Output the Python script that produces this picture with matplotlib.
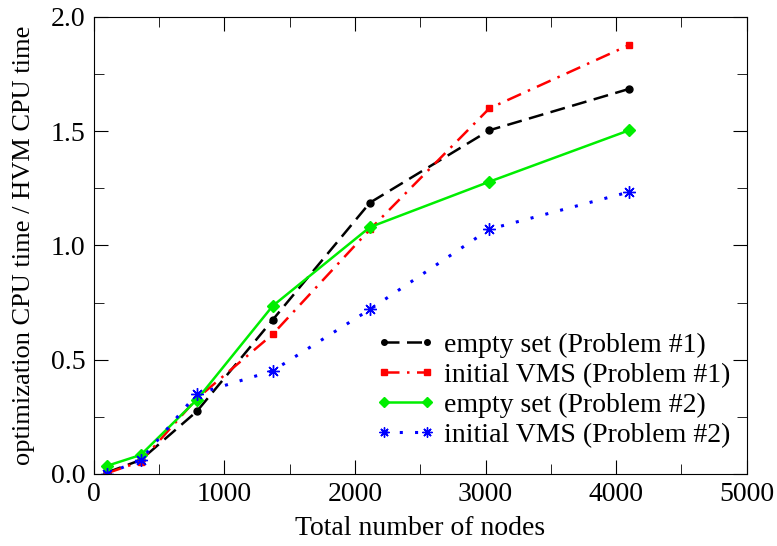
import matplotlib
matplotlib.use("Agg")
import matplotlib.pyplot as plt

plt.rcParams['font.family'] = ['Liberation Serif', 'DejaVu Serif']

nodes = [100, 360, 790, 1370, 2115, 3030, 4100]

empty_p1 = [0.006, 0.061, 0.274, 0.674, 1.187, 1.504, 1.685]
vms_p1 = [0.003, 0.054, 0.33, 0.611, 1.07, 1.600, 1.877]
empty_p2 = [0.035, 0.083, 0.325, 0.735, 1.08, 1.279, 1.504]
vms_p2 = [0.0, 0.061, 0.35, 0.451, 0.72, 1.071, 1.234]

labels = ['empty set (Problem #1)', 'initial VMS (Problem #1)',
          'empty set (Problem #2)', 'initial VMS (Problem #2)']

fig = plt.figure(figsize=(7.77, 5.46), dpi=100)
ax = fig.add_axes([0.1206, 0.132, 0.8404, 0.837])

ax.plot(nodes, empty_p1, color='black', ls=(0, (6, 3)), lw=1.8,
        marker='o', ms=5, label=labels[0])
ax.plot(nodes, vms_p1, color='red', ls=(0, (6, 3, 1, 3)), lw=1.8,
        marker='s', ms=5, label=labels[1])
ax.plot(nodes, empty_p2, color='#00ee00', ls='-', lw=1.8,
        marker='D', ms=6, label=labels[2])
ax.plot(nodes, vms_p2, color='blue', ls=(0, (1, 4)), lw=2.2,
        marker=(8, 2, 0), ms=9, mew=1.0, label=labels[3])

ax.set_xlim(0, 5000)
ax.set_ylim(0, 2.0)
ax.set_xticks([0, 1000, 2000, 3000, 4000, 5000])
ax.set_xticks([500, 1500, 2500, 3500, 4500], minor=True)
ax.set_yticks([0.0, 0.5, 1.0, 1.5, 2.0])
ax.set_yticklabels(['0.0', '0.5', '1.0', '1.5', '2.0'])
ax.set_yticks([0.25, 0.75, 1.25, 1.75], minor=True)
ax.tick_params(which='both', direction='in', top=True, right=True,
               labelsize=20, pad=6)
ax.tick_params(which='major', length=10)
ax.tick_params(which='minor', length=7)

ax.set_xlabel('Total number of nodes', fontsize=20, labelpad=6)
ax.set_ylabel('optimization CPU time / HVM CPU time', fontsize=19, labelpad=11)

leg = ax.legend(loc='lower right', frameon=False, fontsize=20, numpoints=2,
                handlelength=2.15, handletextpad=0.3, labelspacing=0.17,
                borderaxespad=0.2, bbox_to_anchor=(1.0, 0.02),
                markerscale=0.8)

fig.savefig('out.png', dpi=100)
